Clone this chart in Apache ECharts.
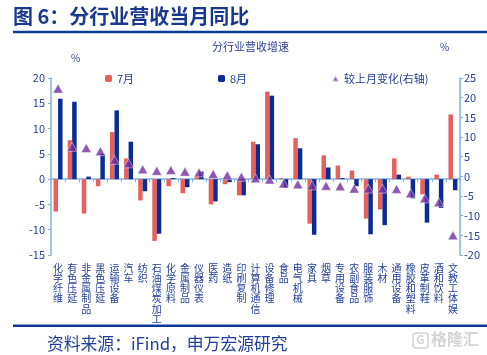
<!DOCTYPE html>
<html><head><meta charset="utf-8">
<script src="https://cdn.jsdelivr.net/npm/echarts@6/dist/echarts.min.js"></script>
<style>html,body{margin:0;padding:0;background:#fff}#c{width:487px;height:355px}</style>
</head><body><div id="c"></div>
<script>
var categories = ['化学纤维','有色压延','非金属制品','黑色压延','运输设备','汽车','纺织','石油煤炭加工','化学原料','金属制品','仪器仪表','医药','造纸','印刷复制','计算机通信','设备修理','食品','电气机械','家具','烟草','专用设备','农副食品','服装服饰','木材','通用设备','橡胶和塑料','皮革制鞋','酒和饮料','文教工体娱'];
var julValues = [-6.4, 7.7, -6.8, -1.4, 9.3, 4.1, -4.2, -12.2, -1.4, -2.8, 0.4, -5.0, -1.0, -3.2, 7.4, 17.3, 0.2, 8.1, -8.8, 4.7, 2.7, 1.7, -7.8, -6.0, 4.1, 0.5, -3.0, 0.9, 12.8];
var augValues = [15.9, 15.3, 0.5, 5.0, 13.6, 7.4, -2.4, -10.8, 0.2, -1.6, 1.5, -4.4, -0.6, -3.2, 6.9, 16.5, -1.7, 6.1, -11.0, 2.3, 0.2, -1.4, -10.9, -9.1, 0.9, -3.8, -8.6, -5.7, -2.2];
var changeValues = [22.3, 7.5, 7.2, 6.4, 4.2, 3.3, 1.8, 1.4, 1.6, 1.2, 1.0, 0.6, 0.3, -0.1, -0.5, -0.8, -1.8, -2.0, -2.3, -2.4, -2.5, -3.1, -3.1, -3.1, -3.2, -4.3, -5.6, -6.6, -15.0];
var leftTicks = {min: -15, max: 20, interval: 5};
var rightTicks = {min: -20, max: 25, interval: 5};

var FONT = 'Noto Sans CJK SC';
var TXT = '#24409a';
var AX = '#7fb2e3';
var chart = echarts.init(document.getElementById('c'), null, {renderer: 'canvas'});
var legendText = {color: TXT, fontSize: 11, fontFamily: FONT};
chart.setOption({
  animation: false,
  textStyle: {fontFamily: FONT},
  grid: {left: 51, right: 27, top: 78, bottom: 100, containLabel: false, outerBoundsMode: 'none'},
  legend: [
    {data: ['7月'], left: 100, top: 68, itemWidth: 7, itemHeight: 7, textStyle: legendText},
    {data: ['8月'], left: 213, top: 68, itemWidth: 7, itemHeight: 7, textStyle: legendText},
    {data: [{name: '较上月变化(右轴)', icon: 'triangle'}], left: 326, top: 68, itemWidth: 7, itemHeight: 6, textStyle: legendText}
  ],
  xAxis: {
    type: 'category', data: categories,
    axisLine: {onZero: true, lineStyle: {color: AX, width: 1.5}},
    axisTick: {show: true, interval: 0, length: 3, lineStyle: {color: AX}},
    axisLabel: {interval: 0, margin: 8, color: TXT, fontSize: 10, lineHeight: 10.2,
      formatter: function (v) { return v.split('').join('\n'); }}
  },
  yAxis: [
    {type: 'value', min: leftTicks.min, max: leftTicks.max, interval: leftTicks.interval,
      splitLine: {show: false},
      axisLine: {show: true, onZero: false, lineStyle: {color: AX, width: 1.5}},
      axisTick: {show: true, length: 3, lineStyle: {color: AX}},
      axisLabel: {color: TXT, fontSize: 11, margin: 6}},
    {type: 'value', min: rightTicks.min, max: rightTicks.max, interval: rightTicks.interval,
      splitLine: {show: false},
      axisLine: {show: true, onZero: false, lineStyle: {color: AX, width: 1.5}},
      axisTick: {show: true, length: 3, lineStyle: {color: AX}},
      axisLabel: {color: TXT, fontSize: 11, margin: 4}}
  ],
  series: [
    {name: '7月', type: 'bar', data: julValues, barWidth: 4.5, barGap: '0%', itemStyle: {color: '#E8605E'}},
    {name: '8月', type: 'bar', data: augValues, barWidth: 4.5, barGap: '0%', itemStyle: {color: '#0A2C94'}},
    {name: '较上月变化(右轴)', type: 'scatter', yAxisIndex: 1, data: changeValues,
      symbol: 'triangle', symbolSize: [10, 9],
      itemStyle: {color: '#7030A0', borderColor: 'rgba(255,255,255,0.7)', borderWidth: 0.8}, z: 5}
  ],
  graphic: [
    {type: 'text', left: 13, top: 6, style: {text: '图 6：分行业营收当月同比', fill: '#17388c', font: 'bold 20px "' + FONT + '"'}},
    {type: 'rect', shape: {x: 13, y: 30.8, width: 474, height: 2.4}, style: {fill: '#0b3a96'}},
    {type: 'text', left: 212, top: 41, style: {text: '分行业营收增速', fill: '#2b3f93', font: '11px "' + FONT + '"'}},
    {type: 'text', left: 71, top: 53, style: {text: '%', fill: '#2b3f93', font: '10px "' + FONT + '"'}},
    {type: 'text', left: 440, top: 42, style: {text: '%', fill: '#2b3f93', font: '10px "' + FONT + '"'}},
    {type: 'rect', shape: {x: 13, y: 324.5, width: 474, height: 2.4}, style: {fill: '#0b3a96'}},
    {type: 'text', left: 47, top: 335, style: {text: '资料来源：iFind，申万宏源研究', fill: '#1f3f9c', font: '16.8px "' + FONT + '"'}},
    {type: 'rect', shape: {x: 413, y: 333, width: 15, height: 15, r: 3}, style: {fill: 'none', stroke: '#d4d4d4', lineWidth: 1.5}},
    {type: 'text', left: 416, top: 333, style: {text: 'G', fill: '#d4d4d4', font: 'bold 12px "' + FONT + '"'}},
    {type: 'text', left: 431, top: 331, style: {text: '格隆汇', fill: '#d4d4d4', font: 'bold 16px "' + FONT + '"'}}
  ]
});
</script></body></html>
